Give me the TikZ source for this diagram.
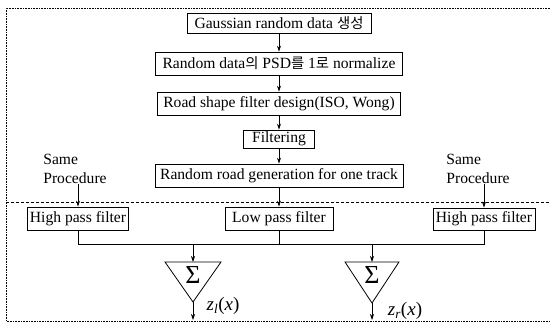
\documentclass[tikz,border=0pt]{standalone}
\usepackage{fontspec}
\setmainfont{Liberation Serif}
\newfontfamily\krfont{Noto Sans CJK KR}[Scale=0.92]
\usetikzlibrary{arrows.meta}
\begin{document}
\begin{tikzpicture}[x=1pt,y=-1pt,
  box/.style={draw, line width=0.8pt, inner sep=0pt, font=\fontsize{15.6}{17}\selectfont},
  lbl/.style={inner sep=0pt, font=\fontsize{15.6}{18.5}\selectfont, align=left},
  arr/.style={-{Stealth[length=6pt,width=4pt]}, line width=0.7pt},
  ln/.style={line width=0.7pt},
  tri/.style={draw, line width=0.8pt},
  sig/.style={inner sep=0pt, font=\fontsize{26}{26}\selectfont},
  outlbl/.style={inner sep=0pt, font=\fontsize{19}{19}\selectfont}]
\useasboundingbox (0,0) rectangle (550,324);
% frame
\draw[densely dotted, line width=0.6pt] (550,8) -- (6,8) -- (6,321) -- (550,321);
\draw[dash pattern=on 3pt off 2pt, line width=0.6pt] (6,202) -- (550,202);
% main chain
\node[box, minimum width=184pt, minimum height=20pt] (b1) at (279,23) {Gaussian random data {\krfont 생성}};
\node[box, minimum width=247pt, minimum height=23pt] (b2) at (279,63.5) {Random data{\krfont 의} PSD{\krfont 를} 1{\krfont 로} normalize};
\node[box, minimum width=243pt, minimum height=23pt] (b3) at (279,103.5) {Road shape filter design(ISO, Wong)};
\node[box, minimum width=71pt, minimum height=18pt] (b4) at (279,139) {Filtering};
\node[box, minimum width=248pt, minimum height=23pt] (b5) at (279,175.5) {Random road generation for one track};
\node[box, minimum width=101pt, minimum height=23pt] (hl) at (78,218.5) {High pass filter};
\node[box, minimum width=108pt, minimum height=23pt] (lp) at (279,218.5) {Low pass filter};
\node[box, minimum width=102pt, minimum height=22pt] (hr) at (484,219) {High pass filter};
\draw[arr] (b1.south) -- (b2.north);
\draw[arr] (b2.south) -- (b3.north);
\draw[arr] (b3.south) -- (b4.north);
\draw[arr] (b4.south) -- (b5.north);
\draw[arr] (b5.south) -- (lp.north);
% same procedure
\node[lbl] (spl) at (75,169) {Same\\Procedure};
\node[lbl] (spr) at (478,169) {Same\\Procedure};
\draw[arr] (spl.south -| hl.north) -- (hl.north);
\draw[arr] (spr.south -| hr.north) -- (hr.north);
% bus
\coordinate (bus) at (0,244);
\draw[ln] (hl.south) -- (hl.south |- bus) -| (hr.south);
\draw[ln] (lp.south) -- (lp.south |- bus);
% summing triangles
\coordinate (tlTop) at (193,262);
\coordinate (tlApex) at (193,302);
\coordinate (tlEnd) at (193,320);
\coordinate (trTop) at (372,262);
\coordinate (trApex) at (372,303);
\coordinate (trEnd) at (372,320);
\draw[tri] ([xshift=-28pt]tlTop) -- ([xshift=28pt]tlTop) -- (tlApex) -- cycle;
\draw[tri] ([xshift=-27pt]trTop) -- ([xshift=27pt]trTop) -- (trApex) -- cycle;
\node[sig] (sl) at (193,275) {Σ};
\node[sig] (sr) at (372,275) {Σ};
\draw[arr] (tlTop |- bus) -- (tlTop);
\draw[arr] (trTop |- bus) -- (trTop);
\draw[arr] (tlApex) -- (tlEnd);
\draw[arr] (trApex) -- (trEnd);
\node[outlbl] (zl) at (223,306) {\textit{z\textsubscript{l}}(\textit{x})};
\node[outlbl] (zr) at (405,311) {\textit{z\textsubscript{r}}(\textit{x})};
\end{tikzpicture}
\end{document}
